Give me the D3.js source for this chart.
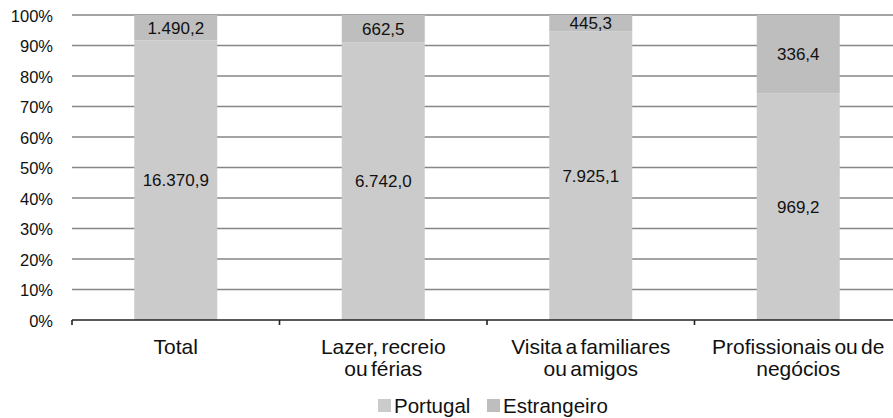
<!DOCTYPE html>
<html>
<head>
<meta charset="utf-8">
<script src="https://cdn.jsdelivr.net/npm/d3@7"></script>
<style>
  body { margin: 0; background: #fff; }
  svg { font-family: "Liberation Sans", Arial, sans-serif; }
</style>
</head>
<body>
<svg id="chart" width="893" height="418"></svg>
<script>
// categories (two lines each) and series values (thousands)
var categories = [
  ["Total"],
  ["Lazer, recreio", "ou férias"],
  ["Visita a familiares", "ou amigos"],
  ["Profissionais ou de", "negócios"]
];
var portugal    = [16370.9, 6742.0, 7925.1, 969.2];
var estrangeiro = [1490.2, 662.5, 445.3, 336.4];
var seriesNames = ["Portugal", "Estrangeiro"];
var colors = ["#cbcbcb", "#bebebe"];
var yTicks = [0, 0.1, 0.2, 0.3, 0.4, 0.5, 0.6, 0.7, 0.8, 0.9, 1];

var margin = {top: 15, left: 72},
    plotW = 830,
    plotH = 305;

var svg = d3.select("#chart");
var g = svg.append("g").attr("transform", "translate(" + margin.left + "," + margin.top + ")");

var x = d3.scaleBand()
  .domain(d3.range(categories.length))
  .range([0, plotW])
  .paddingInner(0.6)
  .paddingOuter(0.3);

var y = d3.scaleLinear().domain([0, 1]).range([plotH, 0]);

var fmt = function(v) {
  // Portuguese style: dot thousands, comma decimal
  var s = d3.format(",.1f")(v);
  return s.replace(/,/g, "#").replace(".", ",").replace(/#/g, ".");
};

// gridlines
g.append("g")
  .selectAll("line")
  .data(yTicks.slice(1))
  .enter().append("line")
  .attr("x1", 0).attr("x2", plotW)
  .attr("y1", function(d) { return y(d); })
  .attr("y2", function(d) { return y(d); })
  .style("stroke", "#868686")
  .style("stroke-width", 1.4);

// y axis labels
g.append("g")
  .selectAll("text")
  .data(yTicks)
  .enter().append("text")
  .attr("x", -19)
  .attr("y", function(d) { return y(d) + 6.5; })
  .style("text-anchor", "end")
  .style("font-size", "16.5px")
  .style("fill", "#111")
  .text(function(d) { return Math.round(d * 100) + "%"; });

// stacked data
var rows = categories.map(function(c, i) {
  var tot = portugal[i] + estrangeiro[i];
  return {i: i, p: portugal[i], e: estrangeiro[i], pf: portugal[i] / tot};
});

var bars = g.append("g").selectAll("g").data(rows).enter().append("g");

bars.append("rect")
  .attr("x", function(d) { return x(d.i); })
  .attr("width", x.bandwidth())
  .attr("y", function(d) { return y(d.pf); })
  .attr("height", function(d) { return plotH - y(d.pf); })
  .style("fill", colors[0]);

bars.append("rect")
  .attr("x", function(d) { return x(d.i); })
  .attr("width", x.bandwidth())
  .attr("y", y(1))
  .attr("height", function(d) { return y(d.pf) - y(1); })
  .style("fill", colors[1]);

// value labels
bars.append("text")
  .attr("x", function(d) { return x(d.i) + x.bandwidth() / 2; })
  .attr("y", function(d) { return y(d.pf / 2) + 6; })
  .style("text-anchor", "middle")
  .style("font-size", "17px")
  .style("fill", "#111")
  .text(function(d) { return fmt(d.p); });

bars.append("text")
  .attr("x", function(d) { return x(d.i) + x.bandwidth() / 2; })
  .attr("y", function(d) { return y((1 + d.pf) / 2) + 6; })
  .style("text-anchor", "middle")
  .style("font-size", "17px")
  .style("fill", "#111")
  .text(function(d) { return fmt(d.e); });

// x axis line and ticks
g.append("line")
  .attr("x1", 0).attr("x2", plotW)
  .attr("y1", plotH).attr("y2", plotH)
  .style("stroke", "#222").style("stroke-width", 1.6);

g.append("g").selectAll("line")
  .data(d3.range(categories.length + 1))
  .enter().append("line")
  .attr("x1", function(d) { return d * plotW / categories.length; })
  .attr("x2", function(d) { return d * plotW / categories.length; })
  .attr("y1", plotH).attr("y2", plotH + 5)
  .style("stroke", "#222").style("stroke-width", 1.6);

// category labels
var cat = g.append("g").selectAll("text").data(categories).enter().append("text")
  .attr("x", function(d, i) { return x(i) + x.bandwidth() / 2; })
  .attr("y", plotH + 34)
  .style("text-anchor", "middle")
  .style("font-size", "21px")
  .style("word-spacing", "-2.5px")
  .style("fill", "#111");

cat.selectAll("tspan").data(function(d) { return d; }).enter().append("tspan")
  .attr("x", function() { return d3.select(this.parentNode).attr("x"); })
  .attr("dy", function(d, j) { return j === 0 ? 0 : 22; })
  .text(function(d) { return d; });

// legend
var legend = svg.append("g").attr("transform", "translate(378,399)");
var legendX = [0, 109];
seriesNames.forEach(function(name, i) {
  legend.append("rect")
    .attr("x", legendX[i]).attr("y", 0)
    .attr("width", 13).attr("height", 13)
    .style("fill", colors[i]);
  legend.append("text")
    .attr("x", legendX[i] + 16).attr("y", 14)
    .style("font-size", "20.5px")
    .style("fill", "#111")
    .text(name);
});
</script>
</body>
</html>
